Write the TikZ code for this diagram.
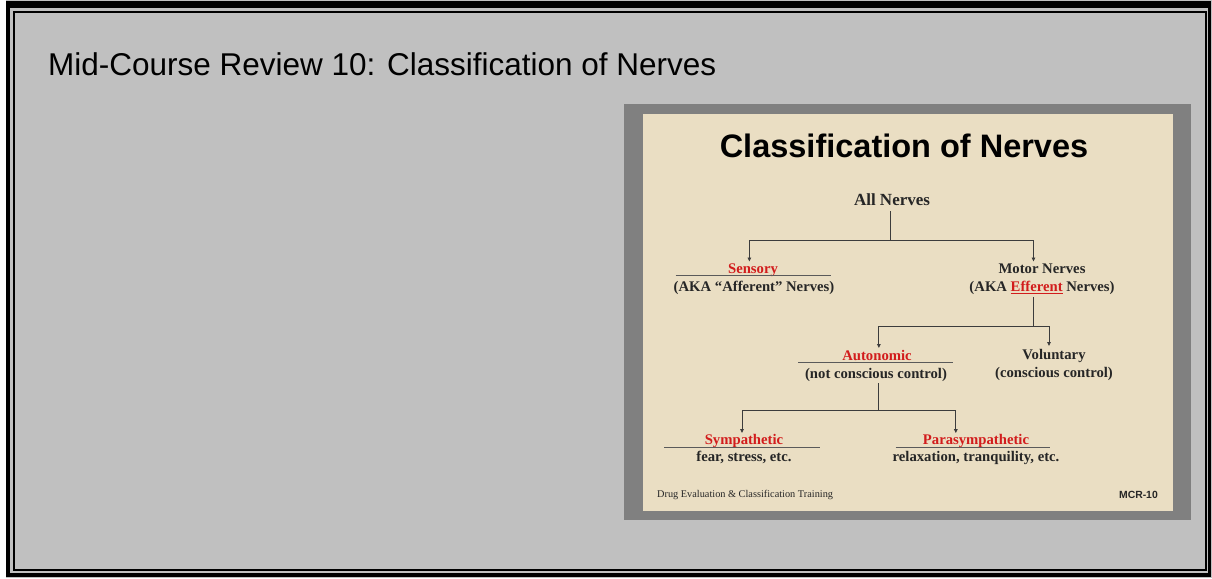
\documentclass[tikz,border=0pt]{standalone}
\usepackage{fontspec}
\setmainfont{Liberation Serif}
\newfontfamily\arialf{Liberation Sans}
\usetikzlibrary{arrows.meta}
\definecolor{bggray}{HTML}{C0C0C0}
\definecolor{slidegray}{HTML}{808080}
\definecolor{parch}{HTML}{EADEC3}
\definecolor{txtc}{HTML}{262626}
\definecolor{redc}{HTML}{D21C1C}
\definecolor{lnc}{HTML}{3C3C3C}
\definecolor{sepc}{HTML}{5A5A5A}
\newcommand\subfnt{\bfseries\fontsize{14.7}{16}\selectfont}
\tikzset{
  lbl/.style={inner sep=0pt, anchor=base, font=\subfnt, text=txtc},
  redlbl/.style={lbl, text=redc},
  ln/.style={draw=lnc, line width=0.9pt},
  arr/.style={ln, -{Triangle[length=4pt,width=3.6pt]}},
  seprule/.style={draw=sepc, line width=1.1pt},
}
\begin{document}
\begin{tikzpicture}[x=1pt,y=-1pt]
\useasboundingbox (0,0) rectangle (1212,578);
% frame
\fill[bggray] (0,0) rectangle (1212,578);
\fill[white] (0,0) rectangle (5.5,578);
\fill[black] (5.5,1.5) rectangle (1210.5,577);
\fill[bggray] (10,8.5) rectangle (1208.3,573);
\fill[black] (12.5,10.7) rectangle (1206.5,571);
\fill[bggray] (14.5,12.7) rectangle (1204.5,569);
% header
\node[inner sep=0pt, anchor=base west, font=\arialf\fontsize{31.5}{36}\selectfont, text=black] (hdr) at (48,75) {Mid-Course Review 10: Classification of Nerves};
% slide
\fill[slidegray] (624,104) rectangle (1191,520);
\fill[parch] (643,114) rectangle (1173,511);
\node[inner sep=0pt, anchor=base, font=\arialf\bfseries\fontsize{32.5}{36}\selectfont, text=black] (ttl) at (904,157) {Classification of Nerves};
% tree
\node[lbl, font=\bfseries\fontsize{17}{19}\selectfont] (all) at (892,205) {All Nerves};
\node[redlbl] (sens) at (753,273.5) {Sensory};
\node[lbl] (sensb) at (754,291.5) {(AKA “Afferent” Nerves)};
\node[lbl] (mot) at (1042,273.5) {Motor Nerves};
\node[lbl] (motb) at (1042,291.5) {(AKA \textcolor{redc}{\underline{Efferent}} Nerves)};
\node[redlbl] (aut) at (877,360) {Autonomic};
\node[lbl] (autb) at (876,378) {(not conscious control)};
\node[lbl] (vol) at (1054,359) {Voluntary};
\node[lbl] (volb) at (1054,377) {(conscious control)};
\node[redlbl] (sym) at (744,444) {Sympathetic};
\node[lbl] (symb) at (744,461.5) {fear, stress, etc.};
\node[redlbl] (par) at (976,444) {Parasympathetic};
\node[lbl] (parb) at (976,461.5) {relaxation, tranquility, etc.};
% separators
\draw[seprule] (675.5,275.7) coordinate (s1a) -- (830.8,275.7) coordinate (s1b);
\draw[seprule] (798,362.3) coordinate (s2a) -- (953,362.3) coordinate (s2b);
\draw[seprule] (664,447.3) coordinate (s3a) -- (820,447.3) coordinate (s3b);
\draw[seprule] (895.5,447.3) coordinate (s4a) -- (1049.7,447.3) coordinate (s4b);
% connectors
\coordinate (j1) at (890,240);
\coordinate (t1) at (749.4,261.5);
\coordinate (t2) at (1033.5,261.5);
\draw[ln] (all.south -| j1) ++(0,6) -- (j1);
\draw[arr] (j1) -| (t1);
\draw[arr] (j1) -| (t2);
\coordinate (j2) at (1033.5,326);
\coordinate (t3) at (878.9,348);
\coordinate (t4) at (1049,346);
\draw[ln] (motb.south -| j2) ++(0,2) -- (j2);
\draw[arr] (j2) -| (t3);
\draw[arr] (j2) -| (t4);
\coordinate (j3) at (878,410.7);
\coordinate (t5) at (742,433);
\coordinate (t6) at (955.8,433);
\draw[ln] (autb.south -| j3) ++(0,2) -- (j3);
\draw[arr] (j3) -| (t5);
\draw[arr] (j3) -| (t6);
% footer
\node[inner sep=0pt, anchor=base west, font=\fontsize{10.3}{12}\selectfont, text=txtc] (ftr) at (657,497) {Drug Evaluation \& Classification Training};
\node[inner sep=0pt, anchor=base east, font=\arialf\bfseries\fontsize{10.4}{12}\selectfont, text=txtc] (mcr) at (1158,498.5) {MCR-10};
\end{tikzpicture}
\end{document}
